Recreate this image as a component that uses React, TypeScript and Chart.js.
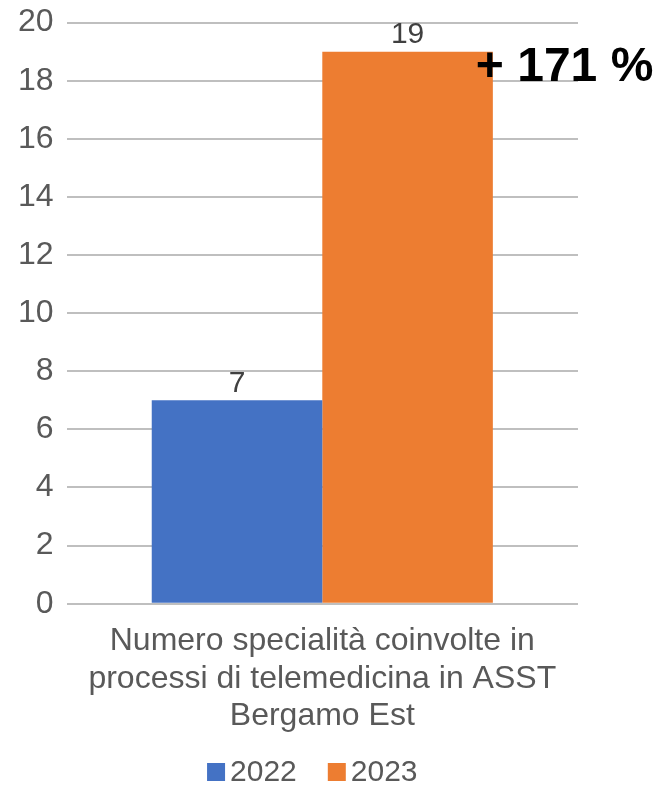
import React, { useEffect, useRef } from "react";
import { Chart, registerables } from "chart.js";

Chart.register(...registerables);

const categories: string[][] = [
  ["Numero specialità coinvolte in", "processi di telemedicina in ASST", "Bergamo Est"],
];
const seriesLabels = ["2022", "2023"];
const values2022 = [7];
const values2023 = [19];
const seriesColors = ["#4472C4", "#ED7D31"];
const changeLabel = "+ 171 %";
const yMin = 0;
const yMax = 20;
const yStep = 2;

const FONT = "'Liberation Sans', Arial, sans-serif";

const overlayPlugin = {
  id: "overlay",
  afterDatasetsDraw(chart: any) {
    const ctx = chart.ctx;
    ctx.save();
    // data labels
    ctx.font = `30px ${FONT}`;
    ctx.fillStyle = "#404040";
    ctx.textAlign = "center";
    ctx.textBaseline = "middle";
    chart.data.datasets.forEach((ds: any, i: number) => {
      const meta = chart.getDatasetMeta(i);
      meta.data.forEach((bar: any, j: number) => {
        ctx.fillText(String(ds.data[j]), bar.x, bar.y - 17);
      });
    });
    // change annotation
    const meta2 = chart.getDatasetMeta(1);
    const bar2 = meta2.data[0];
    if (bar2) {
      ctx.font = `bold 48px ${FONT}`;
      ctx.fillStyle = "#000000";
      ctx.textAlign = "left";
      const right = bar2.x + bar2.width / 2;
      ctx.fillText(changeLabel, right - 17, bar2.y + 16);
    }
    ctx.restore();
  },
  afterDraw(chart: any) {
    const ctx = chart.ctx;
    ctx.save();
    ctx.font = `30px ${FONT}`;
    ctx.textBaseline = "middle";
    ctx.textAlign = "left";
    const box = 18;
    const gap = 5;
    const itemGap = 31;
    const items = chart.data.datasets.map((ds: any) => ({
      label: ds.label,
      color: ds.backgroundColor,
      w: box + gap + ctx.measureText(ds.label).width,
    }));
    const total = items.reduce((s: number, it: any) => s + it.w, 0) + itemGap * (items.length - 1);
    const cx = (chart.chartArea.left + chart.chartArea.right) / 2 - 10;
    let x = cx - total / 2;
    const y = 772;
    items.forEach((it: any) => {
      ctx.fillStyle = it.color;
      ctx.fillRect(x, y - box / 2, box, box);
      ctx.fillStyle = "#595959";
      ctx.fillText(it.label, x + box + gap, y + 1);
      x += it.w + itemGap;
    });
    ctx.restore();
  },
};

export default function App() {
  const canvasRef = useRef<HTMLCanvasElement | null>(null);

  useEffect(() => {
    if (!canvasRef.current) return;
    const chart = new Chart(canvasRef.current, {
      type: "bar",
      data: {
        labels: categories,
        datasets: [
          {
            label: seriesLabels[0],
            data: values2022,
            backgroundColor: seriesColors[0],
            categoryPercentage: 0.667,
            barPercentage: 1,
          },
          {
            label: seriesLabels[1],
            data: values2023,
            backgroundColor: seriesColors[1],
            categoryPercentage: 0.667,
            barPercentage: 1,
          },
        ],
      },
      options: {
        animation: false,
        responsive: true,
        maintainAspectRatio: false,
        layout: { padding: { left: 5, right: 81, top: 19, bottom: 34 } },
        plugins: {
          legend: { display: false },
          tooltip: { enabled: false },
          title: { display: false },
        },
        scales: {
          x: {
            grid: { display: false, drawTicks: false },
            border: { display: false },
            ticks: {
              color: "#595959",
              padding: 19,
              font: { family: FONT, size: 32, lineHeight: 1.17 },
            },
          },
          y: {
            min: yMin,
            max: yMax,
            grid: { color: "#bfbfbf", lineWidth: 2, drawTicks: false },
            border: { display: false },
            ticks: {
              stepSize: yStep,
              color: "#595959",
              padding: 13,
              font: { family: FONT, size: 32, lineHeight: 0.6 },
            },
          },
        },
      },
      plugins: [overlayPlugin],
    });
    return () => chart.destroy();
  }, []);

  return (
    <div style={{ position: "absolute", left: 0, top: 0, width: 659, height: 788 }}>
      <canvas ref={canvasRef} />
    </div>
  );
}
